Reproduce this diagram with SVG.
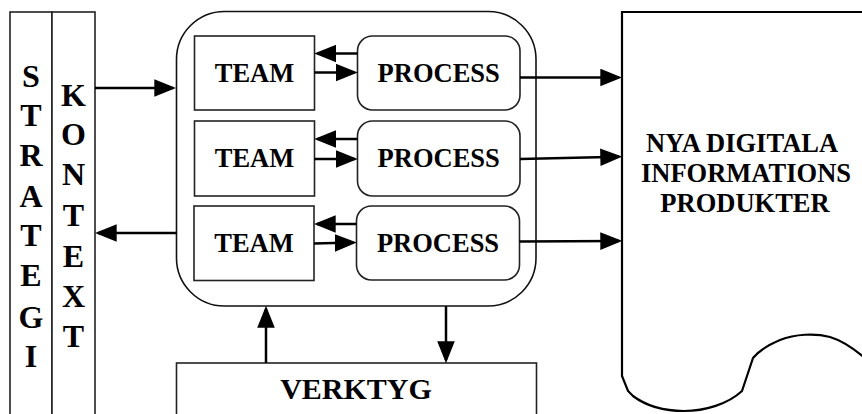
<svg xmlns="http://www.w3.org/2000/svg" width="862" height="414" viewBox="0 0 862 414">
  <style>
    .box { fill: #ffffff; stroke: #222222; stroke-width: 1.6; }
    .frame { fill: none; stroke: #111111; stroke-width: 1.6; }
    .doc { fill: #ffffff; stroke: #000000; stroke-width: 2.2; }
    .lbl { font-family: "Liberation Serif", "Times New Roman", serif; font-weight: bold; fill: #000000; text-anchor: middle; }
    .node { font-size: 26.5px; }
    .col { font-size: 32px; }
    .tool { font-size: 30px; }
    .conn { fill: none; stroke: #000000; stroke-width: 2.5; marker-end: url(#head); }
  </style>
  <defs>
    <marker id="head" markerUnits="userSpaceOnUse" markerWidth="22" markerHeight="18" viewBox="0 0 20 16" refX="17" refY="8" orient="auto">
      <path d="M0,0 L20,8 L0,16 Z" fill="#000000"/>
    </marker>
  </defs>

  <rect width="862" height="414" fill="#ffffff"/>

  <!-- STRATEGI column -->
  <g id="strategi">
    <rect class="box" x="10" y="12" width="42" height="420"/>
    <g class="lbl col">
      <text x="31" y="86.5">S</text>
      <text x="31" y="125.5">T</text>
      <text x="31" y="165.5">R</text>
      <text x="31" y="206.5">A</text>
      <text x="31" y="246">T</text>
      <text x="31" y="285.5">E</text>
      <text x="31" y="328">G</text>
      <text x="31" y="367">I</text>
    </g>
  </g>

  <!-- KONTEXT column -->
  <g id="kontext">
    <rect class="box" x="52" y="12" width="43" height="420"/>
    <g class="lbl col">
      <text x="73.5" y="105.5">K</text>
      <text x="73.5" y="145">O</text>
      <text x="73.5" y="185">N</text>
      <text x="73.5" y="226">T</text>
      <text x="73.5" y="266.5">E</text>
      <text x="73.5" y="306.5">X</text>
      <text x="73.5" y="346.5">T</text>
    </g>
  </g>

  <!-- Enclosing work area -->
  <g id="workarea">
    <rect class="frame" x="176.5" y="11.5" width="359.5" height="294.5" rx="48" ry="48"/>
  </g>

  <g id="team1">
    <rect class="box" x="194.5" y="36" width="120" height="74"/>
    <text class="lbl node" x="254.5" y="82">TEAM</text>
  </g>
  <g id="team2">
    <rect class="box" x="194.5" y="121" width="120" height="75"/>
    <text class="lbl node" x="254.5" y="166.5">TEAM</text>
  </g>
  <g id="team3">
    <rect class="box" x="194" y="206" width="120" height="74.5"/>
    <text class="lbl node" x="254" y="251.5">TEAM</text>
  </g>

  <g id="process1">
    <rect class="box" x="357.5" y="36" width="162.5" height="74" rx="15" ry="15"/>
    <text class="lbl node" x="438.7" y="81.5">PROCESS</text>
  </g>
  <g id="process2">
    <rect class="box" x="357.5" y="121" width="162.5" height="75" rx="15" ry="15"/>
    <text class="lbl node" x="438.7" y="166.5">PROCESS</text>
  </g>
  <g id="process3">
    <rect class="box" x="356.5" y="206" width="163" height="74" rx="15" ry="15"/>
    <text class="lbl node" x="438" y="251.5">PROCESS</text>
  </g>

  <!-- Tools -->
  <g id="verktyg">
    <rect class="box" x="176.5" y="363" width="360" height="60"/>
    <text class="lbl tool" x="356" y="399">VERKTYG</text>
  </g>

  <!-- Output document with wavy lower edge -->
  <g id="produkter">
    <path class="doc" d="M622,376 L622,12 L880,12 L880,372 C868,360 850,343 830,337 C815,333 795,334 780,340 C768,345 758,352 753,358 L742,391 C728,404 705,411 684,411 C662,411 645,405 633,396 L628,391 Z"/>
    <g class="lbl node">
      <text x="742" y="151.5">NYA DIGITALA</text>
      <text x="746" y="181.5">INFORMATIONS</text>
      <text x="745" y="211.5">PRODUKTER</text>
    </g>
  </g>

  <!-- Connectors -->
  <g id="connectors">
    <line class="conn" x1="95" y1="88" x2="173" y2="88"/>
    <line class="conn" x1="176.5" y1="233" x2="98" y2="233"/>

    <line class="conn" x1="357.5" y1="53.5" x2="317.5" y2="53.5"/>
    <line class="conn" x1="314.5" y1="72.5" x2="354.5" y2="72.5"/>
    <line class="conn" x1="357.5" y1="139" x2="317.5" y2="139"/>
    <line class="conn" x1="314.5" y1="159" x2="354.5" y2="159"/>
    <line class="conn" x1="356.5" y1="224" x2="317" y2="224"/>
    <line class="conn" x1="314" y1="243.5" x2="353.5" y2="242.5"/>

    <line class="conn" x1="520" y1="77.5" x2="619" y2="77.5"/>
    <line class="conn" x1="520" y1="159" x2="619" y2="156.8"/>
    <line class="conn" x1="519.5" y1="241.5" x2="619" y2="241"/>

    <line class="conn" x1="266" y1="363" x2="266" y2="309"/>
    <line class="conn" x1="446" y1="306" x2="446" y2="360"/>
  </g>
</svg>
